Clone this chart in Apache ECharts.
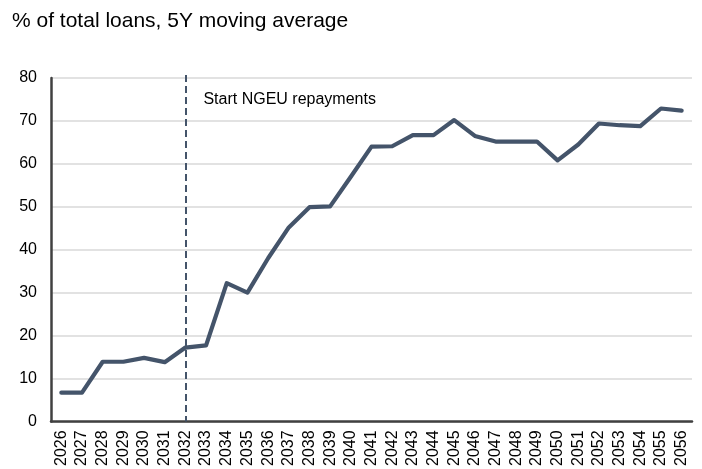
<!DOCTYPE html>
<html><head><meta charset="utf-8">
<script src="https://cdn.jsdelivr.net/npm/echarts@6/dist/echarts.min.js"></script>
<style>html,body{margin:0;padding:0;background:#fff}#c{width:702px;height:469px}</style>
</head><body><div id="c"></div>
<script>
const years = ['2026','2027','2028','2029','2030','2031','2032','2033','2034','2035','2036','2037','2038','2039','2040','2041','2042','2043','2044','2045','2046','2047','2048','2049','2050','2051','2052','2053','2054','2055','2056'];
const shareValues = [6.7,6.7,13.9,13.9,14.8,13.8,17.2,17.7,32.2,30.0,38.0,45.2,49.9,50.1,57.0,64.0,64.1,66.7,66.7,70.2,66.5,65.2,65.2,65.2,60.8,64.5,69.4,69.0,68.8,72.9,72.4];
const markerYear = '2032';
const markerLabel = 'Start NGEU repayments';
const titleText = '% of total loans, 5Y moving average';
const yTicks = [0,10,20,30,40,50,60,70,80];

const chart = echarts.init(document.getElementById('c'));
chart.setOption({
  animation: false,
  backgroundColor: '#fff',
  textStyle: { fontFamily: 'Liberation Sans, Arial, sans-serif' },
  title: { text: titleText, left: 7, top: 6, textStyle: { fontSize: 21, fontWeight: 'normal', color: '#000', fontFamily: 'Liberation Sans, Arial, sans-serif' } },
  grid: { left: 51, right: 10, top: 78, bottom: 45 },
  xAxis: {
    type: 'category', data: years, boundaryGap: true,
    axisLine: { lineStyle: { color: '#404040', width: 2.5 } },
    axisTick: { show: false },
    axisLabel: { rotate: 90, interval: 0, fontSize: 16, color: '#000', margin: 9 }
  },
  yAxis: {
    type: 'value', min: yTicks[0], max: yTicks[yTicks.length-1], interval: 10,
    axisLine: { show: true, lineStyle: { color: '#404040', width: 2.5 } },
    axisTick: { show: false },
    axisLabel: { fontSize: 16, color: '#000', margin: 14 },
    splitLine: { lineStyle: { color: '#d9d9d9', width: 1.5 } }
  },
  series: [{
    type: 'line', data: shareValues, symbol: 'none',
    lineStyle: { color: '#44546a', width: 4.2, join: 'round', cap: 'round' },
    markLine: {
      silent: true, symbol: 'none',
      lineStyle: { type: [7, 4], color: '#44546a', width: 2 },
      label: { show: false },
      data: [[{ xAxis: markerYear, y: 75 }, { xAxis: markerYear, yAxis: 0 }]]
    },
    markPoint: {
      symbol: 'rect', symbolSize: 0,
      data: [{ coord: [markerYear, 80], symbolOffset: [0,0],
        label: { show: true, formatter: markerLabel, position: 'right', offset: [13, 22], fontSize: 16, color: '#000' } }]
    }
  }]
});
</script></body></html>
